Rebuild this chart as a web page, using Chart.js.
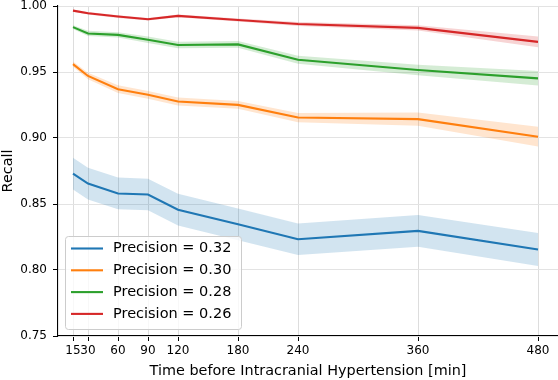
<!DOCTYPE html>
<html>
<head>
<meta charset="utf-8">
<script src="https://cdn.jsdelivr.net/npm/chart.js@4.4.0/dist/chart.umd.min.js"></script>
<style>
  html, body { margin: 0; padding: 0; background: #fff; }
  #wrap { width: 558px; height: 380px; }
</style>
</head>
<body>
<div id="wrap"><canvas id="chart" width="558" height="380"></canvas></div>
<script>
// minutes before ICH
const times = [15, 30, 60, 90, 120, 180, 240, 360, 480];
const yTicks = [0.75, 0.80, 0.85, 0.90, 0.95, 1.00];

const labels = ['Precision = 0.32', 'Precision = 0.30', 'Precision = 0.28', 'Precision = 0.26'];
const colors = ['#1f77b4', '#ff7f0e', '#2ca02c', '#d62728'];
const bandColors = ['rgba(31,119,180,0.2)', 'rgba(255,127,14,0.2)', 'rgba(44,160,44,0.2)', 'rgba(214,39,40,0.2)'];

// recall per precision level
const recall032 = [0.873, 0.8655, 0.858, 0.8572, 0.8457, 0.8346, 0.8233, 0.8296, 0.8155];
const recall030 = [0.956, 0.947, 0.937, 0.9327, 0.9276, 0.9251, 0.9155, 0.9143, 0.901];
const recall028 = [0.984, 0.9792, 0.9781, 0.9744, 0.9704, 0.9709, 0.9593, 0.9515, 0.9452];
const recall026 = [0.9965, 0.9945, 0.992, 0.990, 0.9925, 0.9894, 0.9864, 0.9834, 0.9728];

// half width of the shaded band
const ci032 = [0.012, 0.012, 0.012, 0.012, 0.012, 0.012, 0.012, 0.012, 0.0125];
const ci030 = [0.002, 0.0025, 0.003, 0.003, 0.003, 0.003, 0.0035, 0.005, 0.0075];
const ci028 = [0.0015, 0.002, 0.002, 0.0025, 0.0025, 0.0025, 0.003, 0.004, 0.0055];
const ci026 = [0.0008, 0.001, 0.001, 0.001, 0.001, 0.0012, 0.0015, 0.002, 0.004];

const series = [recall032, recall030, recall028, recall026];
const cis = [ci032, ci030, ci028, ci026];

const font = 'DejaVu Sans';

const datasets = [];
series.forEach((vals, i) => {
    const ci = cis[i];
    datasets.push({
        label: labels[i] + ' upper',
        data: times.map((t, j) => ({ x: t, y: vals[j] + ci[j] })),
        borderWidth: 0, pointRadius: 0, fill: false, order: 1,
        borderColor: 'transparent'
    });
    datasets.push({
        label: labels[i] + ' lower',
        data: times.map((t, j) => ({ x: t, y: vals[j] - ci[j] })),
        borderWidth: 0, pointRadius: 0, fill: '-1', order: 1,
        borderColor: 'transparent', backgroundColor: bandColors[i]
    });
    datasets.push({
        label: labels[i],
        data: times.map((t, j) => ({ x: t, y: vals[j] })),
        borderColor: colors[i], borderWidth: 2.1, pointRadius: 0,
        fill: false, order: 0, tension: 0
    });
});

// matplotlib-like legend in the lower left of the plot
const boxLegend = {
    id: 'boxLegend',
    afterDraw(chart) {
        const ctx = chart.ctx;
        const area = chart.chartArea;
        const x = area.left + 7, w = 176, h = 93;
        const y = area.bottom - 7 - h;
        ctx.save();
        ctx.beginPath();
        ctx.roundRect(x + 0.5, y + 0.5, w, h, 3);
        ctx.fillStyle = 'rgba(255,255,255,0.8)';
        ctx.fill();
        ctx.strokeStyle = '#cccccc';
        ctx.lineWidth = 1;
        ctx.stroke();
        ctx.font = '14.5px "' + font + '"';
        ctx.textBaseline = 'middle';
        labels.forEach((lab, i) => {
            const cy = y + 12.5 + i * 21.8;
            ctx.beginPath();
            ctx.moveTo(x + 6, cy);
            ctx.lineTo(x + 38, cy);
            ctx.strokeStyle = colors[i];
            ctx.lineWidth = 2.1;
            ctx.stroke();
            ctx.fillStyle = '#000';
            ctx.fillText(lab, x + 48, cy);
        });
        ctx.restore();
    }
};

new Chart(document.getElementById('chart'), {
    type: 'line',
    data: { datasets: datasets },
    options: {
        responsive: false,
        animation: false,
        layout: { padding: { top: 0, right: 0, left: 0, bottom: 0 } },
        plugins: {
            legend: { display: false },
            tooltip: { enabled: false }
        },
        scales: {
            x: {
                type: 'linear',
                min: 0,
                max: 500,
                afterBuildTicks: (scale) => { scale.ticks = times.map(v => ({ value: v })); },
                afterFit: (scale) => { scale.height = 44; },
                ticks: {
                    autoSkip: false, maxRotation: 0, padding: 3,
                    color: '#000', font: { family: font, size: 12 }
                },
                grid: { color: '#dddddd', lineWidth: 1, tickLength: 5, tickColor: '#000' },
                border: { display: true, color: '#000', width: 1.1 },
                title: {
                    display: true, text: 'Time before Intracranial Hypertension [min]',
                    color: '#000', font: { family: font, size: 14.4 }, padding: { top: 2, bottom: 0 }
                }
            },
            y: {
                min: 0.75,
                max: 1.0,
                afterBuildTicks: (scale) => { scale.ticks = yTicks.map(v => ({ value: v })); },
                afterFit: (scale) => {
                    scale.width = 58;
                    scale.paddingTop = 6;
                    scale.paddingBottom = 0;
                },
                ticks: {
                    padding: 6, color: '#000', font: { family: font, size: 12 },
                    callback: (v) => v.toFixed(2)
                },
                grid: { color: '#e3e3e3', lineWidth: 1, tickLength: 5, tickColor: '#000' },
                border: { display: true, color: '#000', width: 1.1 },
                title: {
                    display: true, text: 'Recall', color: '#000',
                    font: { family: font, size: 14.4 }, padding: { top: 0, bottom: 0 }
                }
            }
        }
    },
    plugins: [boxLegend]
});
</script>
</body>
</html>
